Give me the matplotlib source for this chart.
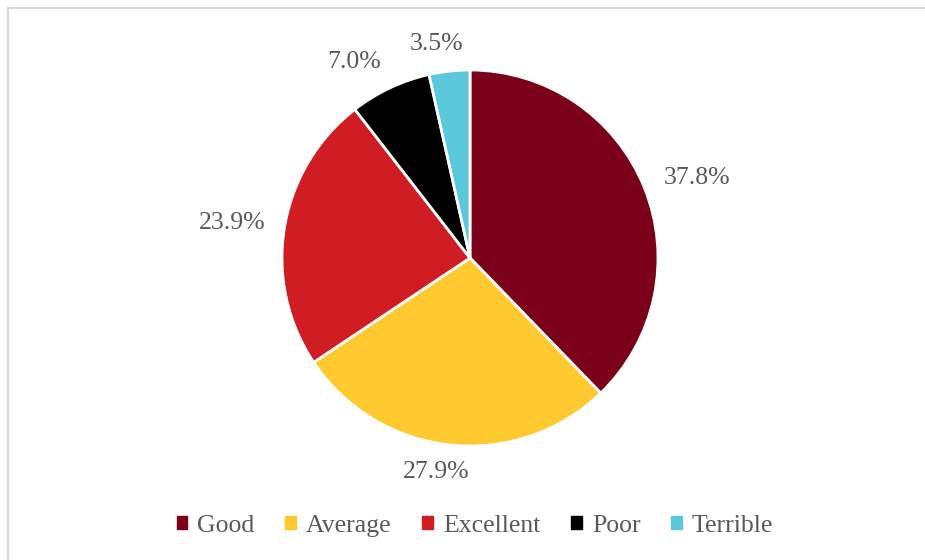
import numpy as np
import matplotlib.pyplot as plt
from matplotlib.patches import Rectangle

# Rating shares (%)
categories = ["Good", "Average", "Excellent", "Poor", "Terrible"]
shares = [37.8, 27.9, 23.9, 7.0, 3.5]
colors = ["#7B0019", "#FFCA2F", "#D01C23", "#000000", "#5BC8DC"]

# label placement: radial distance and angular nudge (deg) per slice
label_dist = [1.28, 1.15, 1.28, 1.21, 1.15]
label_nudge = [-2.6, -2.8, 1.0, 5.5, 2.5]

plt.rcParams['font.family'] = ['Liberation Serif', 'DejaVu Serif']
text_color = "#595959"

W, H = 925, 560
fig = plt.figure(figsize=(W / 100, H / 100), dpi=100)

# pie centre and radius in pixels
cx, cy, r = 470, 258, 188
ax = fig.add_axes([(cx - r) / W, (H - cy - r) / H, 2 * r / W, 2 * r / H])

wedges, _ = ax.pie(shares, colors=colors, startangle=90, counterclock=False,
                   radius=1, wedgeprops=dict(edgecolor="white", linewidth=2))
ax.set_xlim(-1, 1)
ax.set_ylim(-1, 1)
ax.set_aspect("equal")
ax.axis("off")

# percentage labels outside each slice
for w, s, d, n in zip(wedges, shares, label_dist, label_nudge):
    mid = np.deg2rad((w.theta1 + w.theta2) / 2 + n)
    ax.text(d * np.cos(mid), d * np.sin(mid), f"{s:.1f}%", ha="center", va="center",
            fontsize=18.5, color=text_color, clip_on=False)

handles = [Rectangle((0, 0), 1, 1, color=c) for c in colors]
fig.legend(handles, categories, loc="center", bbox_to_anchor=(475 / W, 1 - 526 / H),
           ncol=5, frameon=False, fontsize=18.5, labelcolor=text_color,
           handlelength=0.4, handleheight=0.4, handletextpad=0.4, columnspacing=1.2)

# light chart border
fig.add_artist(Rectangle((7.5 / W, -0.1), 1.2, 1 - 7.5 / H + 0.1, transform=fig.transFigure,
                         fill=False, edgecolor="#D9D9D9", linewidth=1.5))

fig.savefig("out.png", dpi=100)
